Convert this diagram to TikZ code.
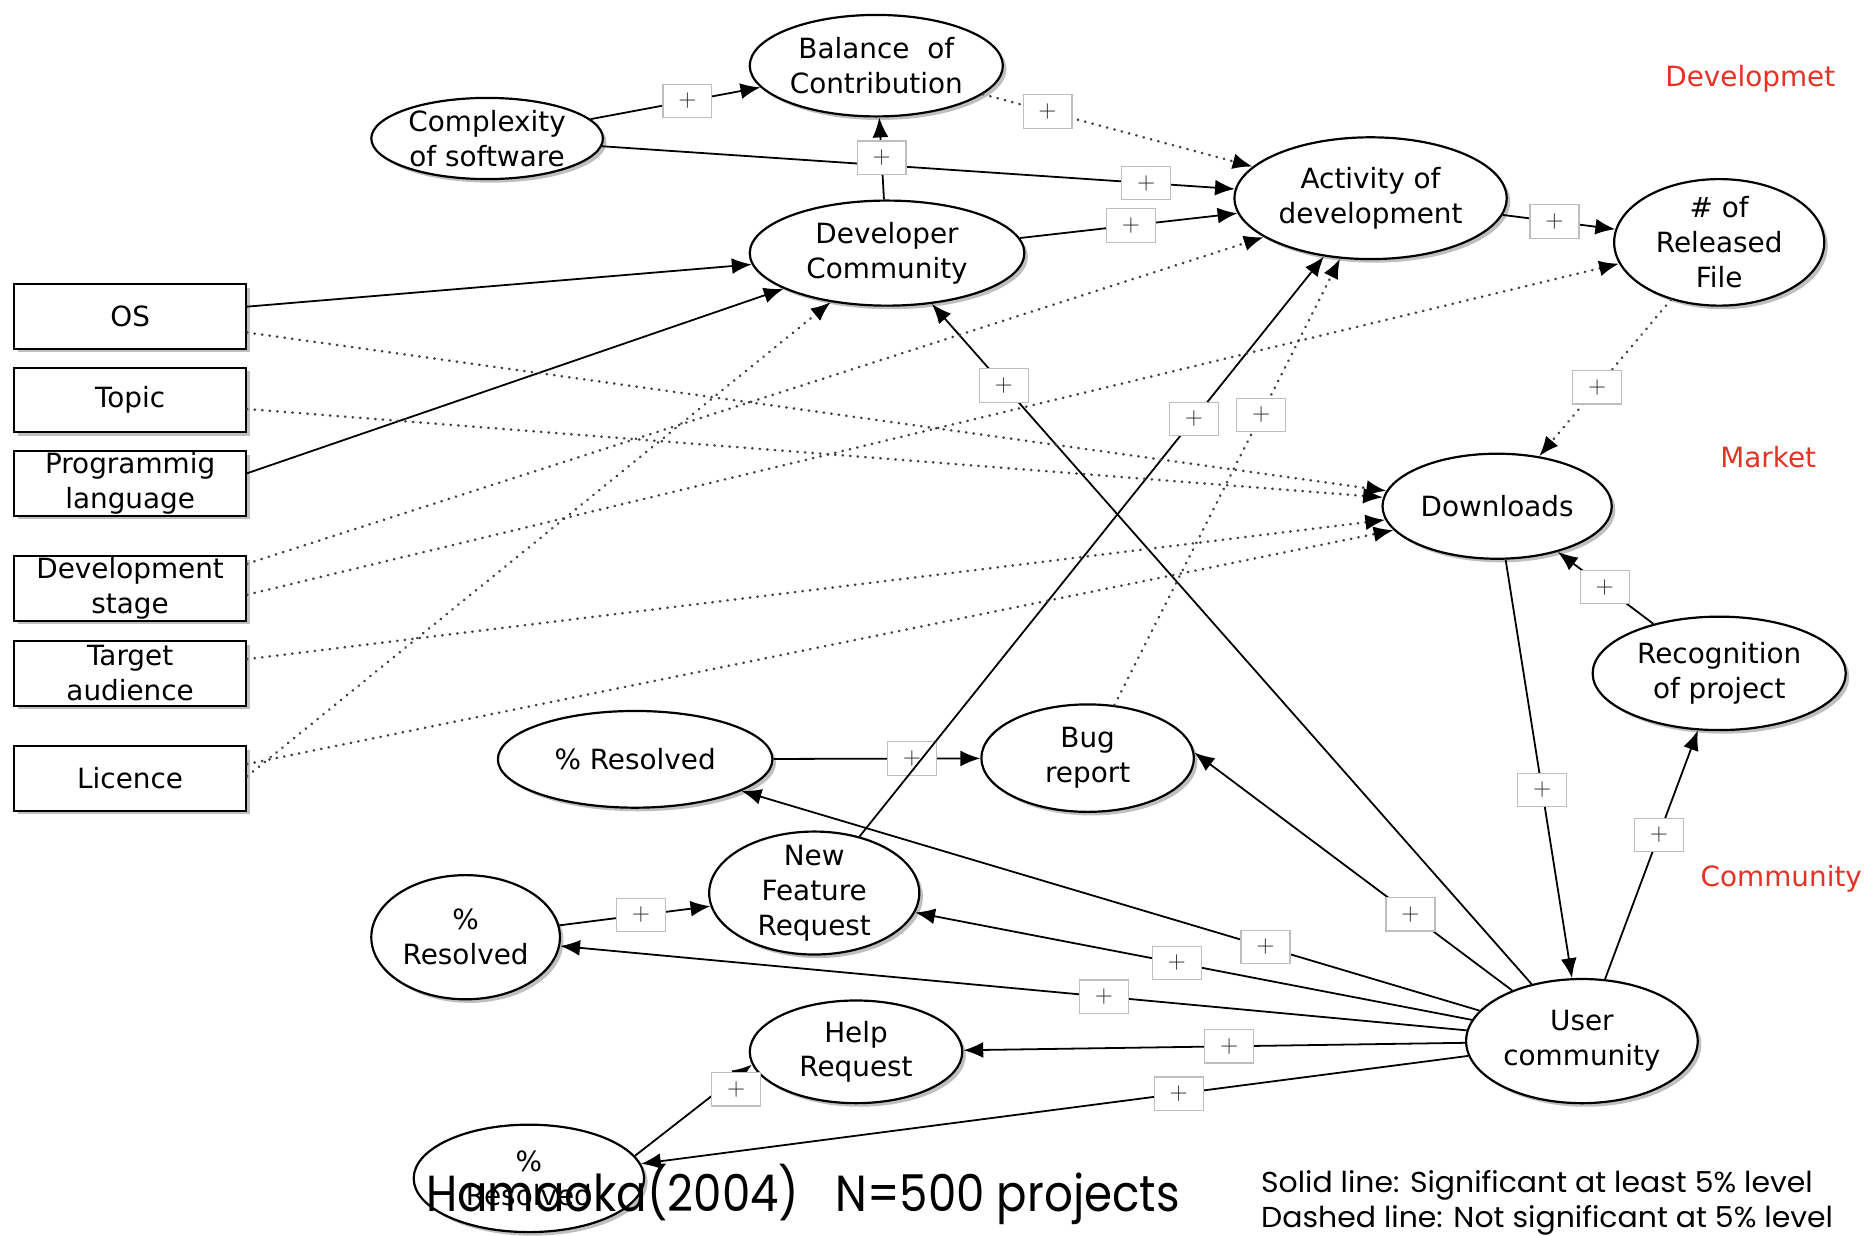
\documentclass[tikz,border=0pt]{standalone}
\usepackage{fontspec}
\usepackage{graphicx}
\setmainfont{DejaVu Sans}
\newfontfamily\notefont{Poppins}
\usetikzlibrary{shapes.geometric,arrows.meta,shadows}

\definecolor{areared}{RGB}{228,50,38}
\definecolor{plusgray}{RGB}{190,190,190}

\begin{document}
\begin{tikzpicture}[x=0.6pt,y=-0.6pt,%
	every node/.style={font=\fontsize{14}{17.5}\selectfont, align=center, inner sep=0pt},
	var/.style={ellipse, draw, line width=1.1pt, fill=white,
		drop shadow={shadow xshift=1.8pt, shadow yshift=-1.8pt, fill=black!55, opacity=0.45}},
	attr/.style={draw, line width=1.1pt, fill=white, minimum width=116.4pt, minimum height=32.4pt,
		drop shadow={shadow xshift=1.8pt, shadow yshift=-1.8pt, fill=black!55, opacity=0.45}},
	pbox/.style={draw=plusgray, solid, line width=0.6pt, fill=white, minimum width=24.6pt,
		minimum height=16.8pt, text=black!85, font=\fontsize{13}{13}\selectfont},
	sig/.style={line width=0.9pt, -{Latex[length=10pt,width=8pt]}},
	nsig/.style={black!75, line width=1.3pt, line cap=round, dash pattern=on 0.2pt off 3.6pt,
		-{Latex[length=10pt,width=8pt,color=black]}},
	area/.style={text=areared}]
	\path[use as bounding box, fill=white] (0,0) rectangle (1568,1035);

	% development
	\node[var, minimum width=127.2pt, minimum height=51pt] (bal) at (734,55) {Balance~~of\\Contribution};
	\node[var, minimum width=116.4pt, minimum height=40.8pt] (cplx) at (408,116) {Complexity\\of software};
	\node[var, minimum width=138pt, minimum height=52.8pt] (devc) at (743,212) {Developer\\Community};
	\node[var, minimum width=136.8pt, minimum height=61.2pt] (act) at (1148,166) {Activity of\\development};
	\node[var, minimum width=105.6pt, minimum height=63.6pt, inner ysep=-3pt] (rel) at (1440,203) {\# of\\Released\\File};
	% market
	\node[var, minimum width=115.2pt, minimum height=52.8pt] (dl) at (1254,424) {Downloads};
	\node[var, minimum width=127.2pt, minimum height=57pt] (rec) at (1440,564) {Recognition\\of project};
	% community
	\node[var, minimum width=116.4pt, minimum height=62.4pt] (uc) at (1325,872) {User\\community};
	\node[var, minimum width=138pt, minimum height=48.6pt] (res1) at (532,636) {\% Resolved};
	\node[var, minimum width=106.8pt, minimum height=54pt] (bug) at (911,635) {Bug\\report};
	\node[var, minimum width=105.6pt, minimum height=61.8pt, inner ysep=-3pt] (nfr) at (682,748) {New\\Feature\\Request};
	\node[var, minimum width=94.8pt, minimum height=62.4pt] (res2) at (390,785) {\%\\Resolved};
	\node[var, minimum width=106.8pt, minimum height=51.6pt] (help) at (717,881) {Help\\Request};
	\node[var, minimum width=115.8pt, minimum height=54pt] (res3) at (443,987) {\%\\Resolved};

	% project attributes
	\node[attr] (os) at (109,265) {OS};
	\node[attr] (topic) at (109,335) {Topic};
	\node[attr] (prog) at (109,405) {Programmig\\language};
	\node[attr] (stage) at (109,493) {Development\\stage};
	\node[attr] (aud) at (109,564) {Target\\audience};
	\node[attr] (lic) at (109,652) {Licence};

	\node[area] (ldev) at (1466,66) {Developmet};
	\node[area] (lmkt) at (1481,383) {Market};
	\node[area] (lcom) at (1492,736) {Community};

	% significant
	\draw[sig] (cplx) -- node[pbox, pos=0.57] {$+$} (bal);
	\draw[sig] (cplx) -- node[pbox, pos=0.86] {$+$} (act);
	\draw[sig] (devc) -- node[pbox, pos=0.51] {$+$} (bal);
	\draw[sig] (devc) -- node[pbox, pos=0.51] {$+$} (act);
	\draw[sig] (act) -- node[pbox, pos=0.46] {$+$} (rel);
	\draw[sig] (os) -- (devc);
	\draw[sig] (prog.5) -- (devc.199);
	\draw[sig] (uc) -- node[pbox, pos=0.88] {$+$} (devc);
	\draw[sig] (res1) -- node[pbox, pos=0.67] {$+$} (bug);
	\draw[sig] (nfr) -- node[pbox, pos=0.72] {$+$} (act);
	\draw[sig] (res2) -- node[pbox, pos=0.54] {$+$} (nfr);
	\draw[sig] (uc) -- node[pbox, pos=0.29] {$+$} (res1);
	\draw[sig] (uc.144) -- node[pbox, pos=0.32] {$+$} (bug.3);
	\draw[sig] (uc) -- node[pbox, pos=0.53] {$+$} (nfr);
	\draw[sig] (uc) -- node[pbox, pos=0.40] {$+$} (res2);
	\draw[sig] (uc) -- node[pbox, pos=0.47] {$+$} (help);
	\draw[sig] (uc) -- node[pbox, pos=0.35] {$+$} (res3);
	\draw[sig] (res3.12) -- node[pbox, pos=0.73, xshift=8pt] {$+$} (help.187);
	\draw[sig] (dl) -- node[pbox, pos=0.55] {$+$} (uc);
	\draw[sig] (uc) -- node[pbox, pos=0.58] {$+$} (rec);
	\draw[sig] (rec) -- node[pbox, pos=0.51] {$+$} (dl);
	% not significant
	\draw[nsig] (bal) -- node[pbox, pos=0.24] {$+$} (act);
	\draw[nsig] (rel) -- node[pbox, pos=0.56] {$+$} (dl);
	\draw[nsig] (bug) -- node[pbox, pos=0.65] {$+$} (act);
	\draw[nsig] (os) -- (dl);
	\draw[nsig] (topic) -- (dl);
	\draw[nsig] (stage.12) -- (act.200);
	\draw[nsig] (stage.-3) -- (rel.192);
	\draw[nsig] (aud) -- (dl);
	\draw[nsig] (lic.7) -- (dl.193);
	\draw[nsig] (lic.1) -- (devc.221);

	\node[anchor=base] (src) at (672.5,1015) {\resizebox{378.6pt}{\height}{\notefont\fontsize{25.5}{30}\selectfont Hamaoka(2004)\ \ \ N=500 projects}};
	\node[anchor=base west] (leg1) at (1056,999) {\resizebox{277.2pt}{\height}{\notefont\fontsize{14.5}{17}\selectfont Solid line: Significant at least 5\% level}};
	\node[anchor=base west] (leg2) at (1056,1028) {\resizebox{287.4pt}{\height}{\notefont\fontsize{14.5}{17}\selectfont Dashed line: Not significant at 5\% level}};
\end{tikzpicture}
\end{document}
